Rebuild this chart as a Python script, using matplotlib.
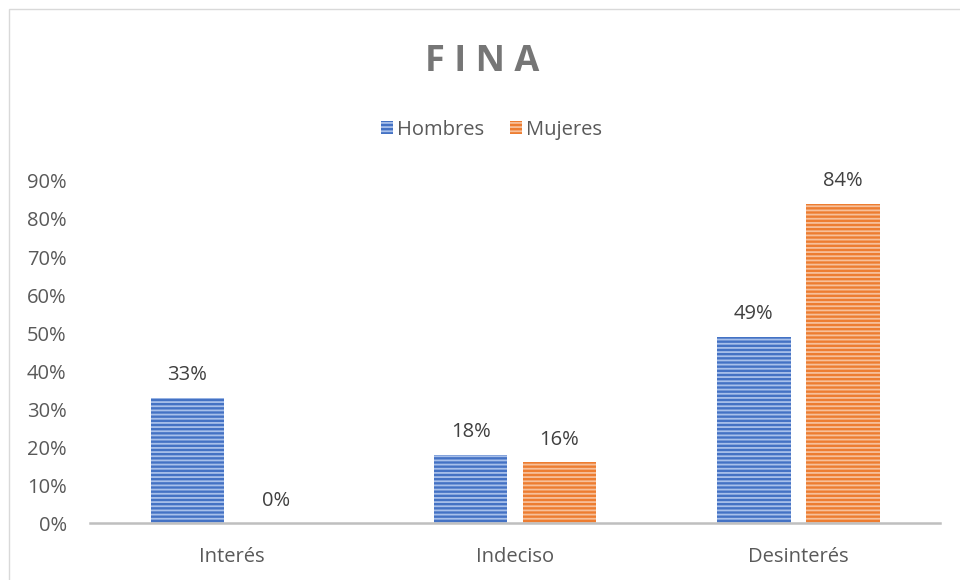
import matplotlib.pyplot as plt
import numpy as np
from matplotlib.patches import Rectangle

categories = ["Interés", "Indeciso", "Desinterés"]
hombres = [0.33, 0.18, 0.49]
mujeres = [0.00, 0.16, 0.84]
series_names = ["Hombres", "Mujeres"]
yticks = [0.0, 0.1, 0.2, 0.3, 0.4, 0.5, 0.6, 0.7, 0.8, 0.9]

plt.rcParams["font.family"] = ["Open Sans", "DejaVu Sans"]
plt.rcParams["hatch.linewidth"] = 1.3
txt = "#595959"

fig = plt.figure(figsize=(9.6, 5.8), dpi=100)
ax = fig.add_axes([0.094, 0.098, 0.885, 0.59])

x = np.arange(len(categories))
w = 0.26
off = 0.157
colors = [("#4472C4", "#a8c0ea"), ("#ED7D31", "#f7c09a")]
for vals, name, (fc, hc), sgn in zip([hombres, mujeres], series_names, colors, [-1, 1]):
    bars = ax.bar(x + sgn * off, vals, w, color=fc, edgecolor=hc, linewidth=0,
                  hatch="----", label=name)
    for b, v in zip(bars, vals):
        ax.annotate(f"{v:.0%}", (b.get_x() + b.get_width() / 2, v),
                    xytext=(0, 9), textcoords="offset points",
                    ha="center", va="bottom", fontsize=14.5, color="#404040")

ax.set_xlim(-0.5, 2.5)
ax.set_ylim(0, 0.9)
ax.set_yticks(yticks)
ax.set_yticklabels([f"{t:.0%}" for t in yticks])
ax.set_xticks(x)
ax.set_xticklabels(categories)
ax.tick_params(axis="both", length=0, labelsize=14.5, colors=txt)
ax.tick_params(axis="x", pad=17)
ax.tick_params(axis="y", pad=17)
for s in ["top", "right", "left"]:
    ax.spines[s].set_visible(False)
ax.spines["bottom"].set_color("#bfbfbf")
ax.spines["bottom"].set_linewidth(1.8)

fig.text(0.5025, 0.893, "F I N A", ha="center", va="center", fontsize=26,
         fontweight="bold", color="#767676")
fig.legend(loc="center", bbox_to_anchor=(0.512, 0.776), ncol=2, frameon=False,
           fontsize=14.5, handlelength=0.6, handleheight=0.6, handletextpad=0.2,
           columnspacing=1.3, labelcolor=txt)

fig.patches.append(Rectangle((8.5 / 960, -0.1), 1.5, (580 - 9) / 580 + 0.1,
                             transform=fig.transFigure, fill=False,
                             edgecolor="#d9d9d9", linewidth=1))

fig.savefig("out.png", dpi=100)
